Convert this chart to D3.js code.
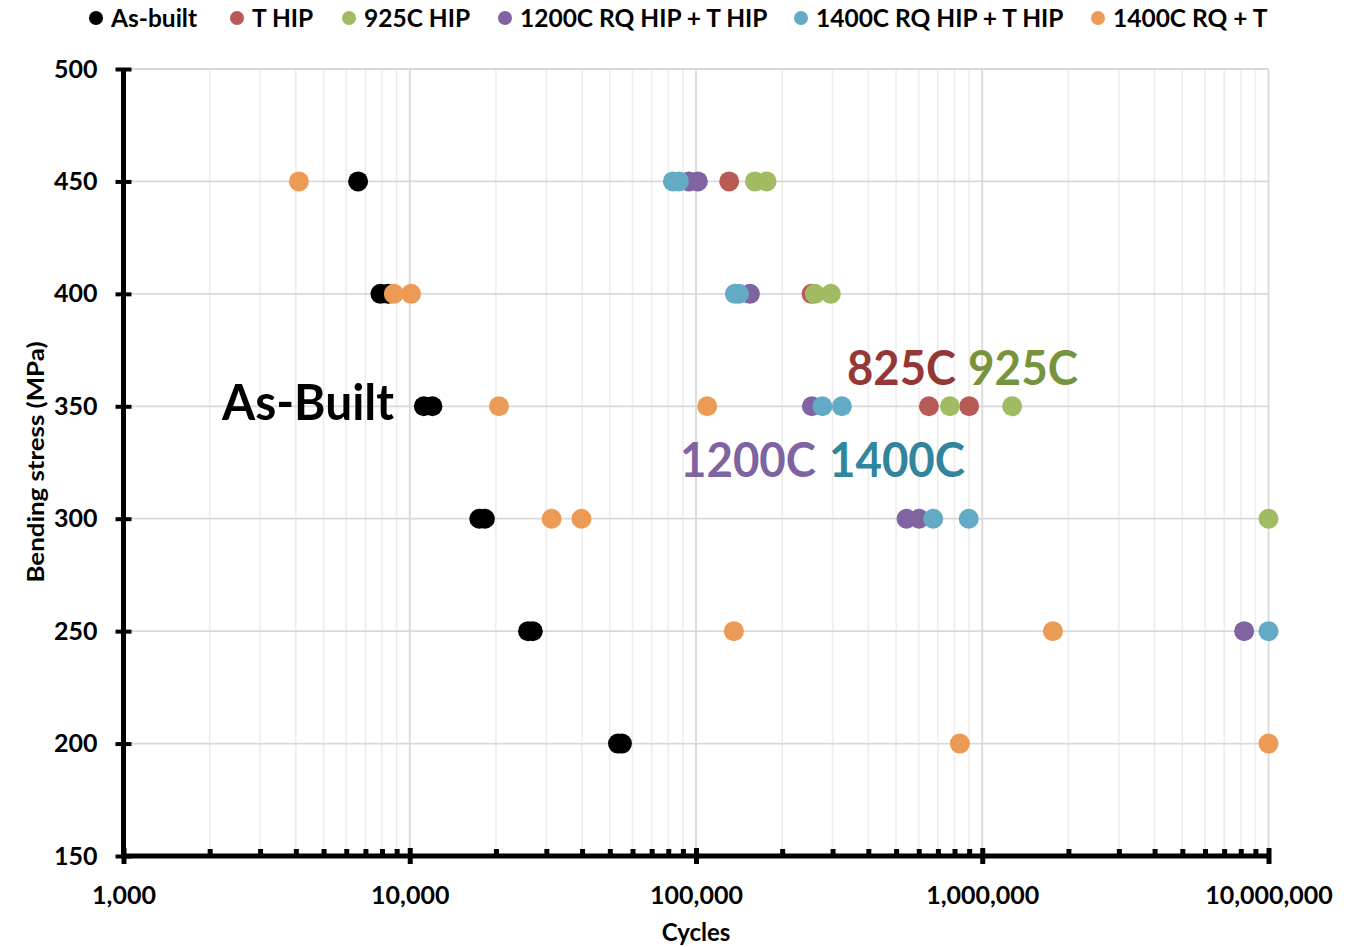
<!DOCTYPE html>
<html>
<head>
<meta charset="utf-8">
<script src="https://cdn.jsdelivr.net/npm/d3@7"></script>
<style>
  body { margin: 0; background: #fff; }
  svg { display: block; }
  text { font-family: Lato, "Open Sans", sans-serif; font-weight: 700; }
</style>
</head>
<body>
<svg id="chart" width="1357" height="947"></svg>
<script>
// ---- data ----
const seriesNames = ["As-built", "T HIP", "925C HIP", "1200C RQ HIP + T HIP", "1400C RQ HIP + T HIP", "1400C RQ + T"];
const seriesColors = ["#000000", "#b85a55", "#a0bb62", "#7f64a1", "#63abc5", "#ec9b56"];

const asBuiltCycles = [6600, 7900, 8400, 11200, 12000, 17500, 18300, 25900, 26900, 53400, 55100];
const asBuiltStress = [450, 400, 400, 350, 350, 300, 300, 250, 250, 200, 200];

const tHipCycles = [130600, 253400, 651000, 900000];
const tHipStress = [450, 400, 350, 350];

const hip925Cycles = [160600, 176400, 260200, 295900, 770900, 1272000, 10000000];
const hip925Stress = [450, 450, 400, 400, 350, 350, 300];

const rq1200Cycles = [94500, 101500, 154300, 254000, 543800, 602000, 8220000];
const rq1200Stress = [450, 450, 400, 350, 300, 300, 250];

const rq1400HipCycles = [83000, 87200, 136800, 141300, 276400, 323300, 673900, 897000, 10000000];
const rq1400HipStress = [450, 450, 400, 400, 350, 350, 300, 300, 250];

const rq1400TCycles = [4100, 8800, 10100, 20500, 109400, 31300, 39800, 135600, 1766000, 835000, 10000000];
const rq1400TStress = [450, 400, 400, 350, 350, 300, 300, 250, 250, 200, 200];

const xTickValues = [1e3, 1e4, 1e5, 1e6, 1e7];
const yTickValues = [150, 200, 250, 300, 350, 400, 450, 500];

const annotationTexts = ["As-Built", "825C", "925C", "1200C", "1400C"];
const annotationColors = ["#000000", "#953735", "#77933c", "#8064a2", "#31859c"];

// ---- setup ----
const svg = d3.select("#chart");
const plotLeft = 123.5, plotRight = 1268.5, plotTop = 69, plotBottom = 856;

const x = d3.scaleLog().domain([1e3, 1e7]).range([plotLeft, plotRight]);
const y = d3.scaleLinear().domain([150, 500]).range([plotBottom, plotTop]);

const cyclesBySeries = [asBuiltCycles, tHipCycles, hip925Cycles, rq1200Cycles, rq1400HipCycles, rq1400TCycles];
const stressBySeries = [asBuiltStress, tHipStress, hip925Stress, rq1200Stress, rq1400HipStress, rq1400TStress];
const series = seriesNames.map((name, i) => ({
  name,
  color: seriesColors[i],
  points: cyclesBySeries[i].map((c, j) => ({ cycles: c, stress: stressBySeries[i][j] }))
}));

// minor log ticks 2..9 inside each decade
const minorValues = [];
for (let d = 1e3; d < 1e7; d *= 10) {
  for (let k = 2; k <= 9; k++) minorValues.push(k * d);
}

// ---- gridlines ----
const grid = svg.append("g");
grid.append("g").selectAll("line").data(minorValues).join("line")
  .attr("x1", d => x(d)).attr("x2", d => x(d))
  .attr("y1", plotTop).attr("y2", plotBottom)
  .attr("stroke", "#ededed").attr("stroke-width", 1.6);
grid.append("g").selectAll("line").data(xTickValues.slice(1)).join("line")
  .attr("x1", d => x(d)).attr("x2", d => x(d))
  .attr("y1", plotTop).attr("y2", plotBottom)
  .attr("stroke", "#d9d9d9").attr("stroke-width", 1.8);
grid.append("g").selectAll("line").data(yTickValues.slice(1)).join("line")
  .attr("x1", plotLeft).attr("x2", plotRight)
  .attr("y1", d => y(d)).attr("y2", d => y(d))
  .attr("stroke", "#d9d9d9").attr("stroke-width", 1.8);

// ---- annotations ----
const annotationLayout = [
  { x: 222, y: 420, size: 50, w: 172 },
  { x: 847, y: 385, size: 48, w: 109 },
  { x: 968, y: 385, size: 48, w: 110 },
  { x: 680, y: 477, size: 48, w: 136 },
  { x: 829, y: 477, size: 48, w: 136 }
];
svg.append("g").selectAll("text").data(annotationTexts).join("text")
  .attr("x", (d, i) => annotationLayout[i].x)
  .attr("y", (d, i) => annotationLayout[i].y)
  .attr("font-size", (d, i) => annotationLayout[i].size)
  .attr("textLength", (d, i) => annotationLayout[i].w)
  .attr("lengthAdjust", "spacingAndGlyphs")
  .attr("fill", (d, i) => annotationColors[i])
  .text(d => d);

// ---- points ----
const pts = svg.append("g");
series.forEach(s => {
  pts.append("g").selectAll("circle").data(s.points).join("circle")
    .attr("cx", d => x(d.cycles))
    .attr("cy", d => y(d.stress))
    .attr("r", 10)
    .attr("fill", s.color);
});

// ---- axes ----
const axisColor = "#000";
const xAxis = d3.axisBottom(x).tickValues(xTickValues).tickFormat(d3.format(",")).tickSize(8).tickPadding(22);
const gx = svg.append("g").attr("transform", `translate(0,${plotBottom})`).call(xAxis);
gx.select(".domain").remove();
gx.selectAll(".tick line").attr("y1", -8).attr("y2", 8).attr("stroke", axisColor).attr("stroke-width", 5);
gx.selectAll(".tick text").attr("font-size", 25).attr("fill", "#000")
  .style("font-family", "Lato, 'Open Sans', sans-serif").style("font-weight", 700);

const xMinor = d3.axisBottom(x).tickValues(minorValues).tickFormat("").tickSize(7);
const gxm = svg.append("g").attr("transform", `translate(0,${plotBottom})`).call(xMinor);
gxm.select(".domain").remove();
gxm.selectAll(".tick line").attr("y1", -7).attr("y2", 0).attr("stroke", axisColor).attr("stroke-width", 5);

const yAxis = d3.axisLeft(y).tickValues(yTickValues).tickSize(8).tickPadding(18);
const gy = svg.append("g").attr("transform", `translate(${plotLeft},0)`).call(yAxis);
gy.select(".domain").remove();
gy.selectAll(".tick line").attr("x1", -8).attr("x2", 8).attr("stroke", axisColor).attr("stroke-width", 4);
gy.selectAll(".tick text").attr("font-size", 25).attr("fill", "#000")
  .style("font-family", "Lato, 'Open Sans', sans-serif").style("font-weight", 700);

// axis lines
svg.append("line").attr("x1", plotLeft).attr("x2", plotLeft).attr("y1", plotTop).attr("y2", plotBottom + 2.5)
  .attr("stroke", axisColor).attr("stroke-width", 5);
svg.append("line").attr("x1", plotLeft - 2.5).attr("x2", plotRight).attr("y1", plotBottom).attr("y2", plotBottom)
  .attr("stroke", axisColor).attr("stroke-width", 5);

// axis titles
svg.append("text").attr("x", 696).attr("y", 941)
  .attr("text-anchor", "middle").attr("font-size", 24).text("Cycles");
svg.append("text").attr("transform", `translate(44,462) rotate(-90)`)
  .attr("text-anchor", "middle").attr("font-size", 23)
  .attr("textLength", 241).attr("lengthAdjust", "spacingAndGlyphs")
  .text("Bending stress (MPa)");

// ---- legend ----
const legendX = [96, 237, 349, 505, 801, 1098];
const lg = svg.append("g");
series.forEach((s, i) => {
  lg.append("circle").attr("cx", legendX[i]).attr("cy", 18).attr("r", 7).attr("fill", s.color);
  lg.append("text").attr("x", legendX[i] + 15).attr("y", 27).attr("font-size", 24.5).text(s.name);
});
</script>
</body>
</html>
